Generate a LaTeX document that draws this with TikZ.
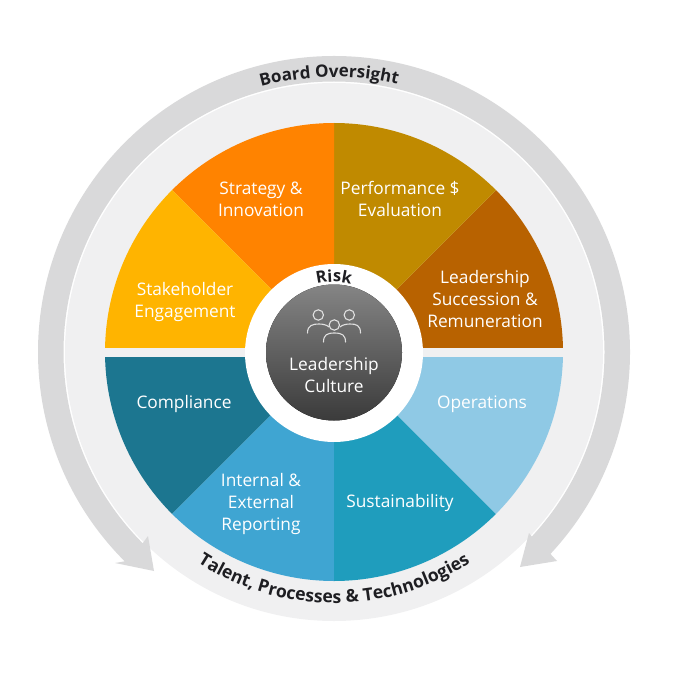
\documentclass[tikz,border=0pt]{standalone}
\usepackage{fontspec}
\setmainfont{Open Sans}
\usetikzlibrary{decorations.text}
\definecolor{diskgray}{HTML}{F0F0F1}
\definecolor{arrowgray}{HTML}{D9D9DA}
\definecolor{capdark}{HTML}{1E1E22}
\definecolor{cStake}{HTML}{FFB400}
\definecolor{cStrat}{HTML}{FF8300}
\definecolor{cPerf}{HTML}{C08A00}
\definecolor{cLead}{HTML}{B86200}
\definecolor{cOper}{HTML}{8FC9E5}
\definecolor{cSust}{HTML}{1F9DBD}
\definecolor{cRepo}{HTML}{3FA5D2}
\definecolor{cComp}{HTML}{1C7690}
\tikzset{
  x=1pt,y=1pt,
  wedgefill/.style={fill=#1,draw=none},
  seclabel/.style={text=white,align=center,font=\fontsize{17.3}{22}\selectfont,inner sep=0pt},
  iconline/.style={draw=white!88!black,line width=1.1pt,line cap=round},
}
\newcommand{\sector}[3]{\fill[wedgefill=#3] (334,-352) -- ([shift={(334,-352)}]#1:229) arc[start angle=#1,end angle=#2,radius=229] -- cycle;}
\begin{document}
\begin{tikzpicture}
\useasboundingbox (0,0) rectangle (686,-692);
\coordinate (C) at (334,-352);
% light disk
\fill[diskgray] (C) circle[radius=269];
% white rim
\draw[white,line width=1pt] ([shift={(C)}]-41:270) arc[start angle=-41,end angle=223,radius=270];
% board oversight double arrow
\fill[arrowgray]
  ([shift={(C)}]-43:296) arc[start angle=-43,end angle=225,radius=296]
  -- (115,-563) -- (154,-571) -- (148,-536)
  -- ([shift={(C)}]225:270.5) arc[start angle=225,end angle=-43,radius=270.5]
  -- (529,-533) -- (520,-567) -- (557,-561) -- cycle;
% sectors
\sector{0}{45}{cLead}
\sector{45}{90}{cPerf}
\sector{90}{135}{cStrat}
\sector{135}{180}{cStake}
\sector{180}{225}{cComp}
\sector{225}{270}{cRepo}
\sector{270}{315}{cSust}
\sector{315}{360}{cOper}
\fill[diskgray] (104,-348) rectangle (564,-357);
% hub
\fill[white] (334,-353) circle[radius=89];
\fill[top color=black!48,bottom color=black!77] (334,-352.5) circle[radius=68];
% icon
\draw[iconline] (318.3,-315) circle[radius=5.2];
\draw[iconline] (349.3,-315) circle[radius=5.2];
\draw[iconline] (334.3,-325) circle[radius=5.2];
\draw[iconline] (307.5,-333) .. controls (307.5,-325) and (313,-324) .. (319,-324) .. controls (323,-324) and (327,-325) .. (329,-327);
\draw[iconline] (340,-327) .. controls (342,-325) and (346,-324) .. (350,-324) .. controls (356,-324) and (360.5,-325) .. (360.5,-333);
\draw[iconline] (323.5,-342) .. controls (323.5,-335) and (327,-333) .. (334.3,-333) .. controls (342,-333) and (345.5,-335) .. (345.5,-342);
% labels
\node[seclabel] (strategy) at (261,-199) {Strategy \&\\Innovation};
\node[seclabel] (performance) at (400,-199) {Performance \$\\Evaluation};
\node[seclabel] (succession) at (485,-299.5) {Leadership\\Succession \&\\Remuneration};
\node[seclabel] (stakeholder) at (185,-302.5) {Stakeholder\\Engagement};
\node[seclabel] (compliance) at (184,-404.5) {Compliance};
\node[seclabel] (operations) at (482,-404.5) {Operations};
\node[seclabel] (sustainability) at (400,-503.5) {Sustainability};
\node[seclabel] (reporting) at (261,-504) {Internal \&\\External\\Reporting};
\node[seclabel] (culture) at (334,-375.5) {Leadership\\Culture};
% curved captions
\path[decorate,decoration={text along path,text align=center,
  text={|\fontsize{17}{18}\selectfont\bfseries\color{capdark}|Board Oversight}}]
  ([shift={(C)}]116:275) arc[start angle=116,end angle=66,radius=275];
\path[decorate,decoration={text along path,text align=center,
  text={|\fontsize{17.6}{18}\selectfont\bfseries\color{capdark}|Talent, Processes {\&} Technologies}}]
  ([shift={(C)}]230:251) arc[start angle=230,end angle=310,radius=251];
\path[decorate,decoration={text along path,text align=center,
  text={|\fontsize{16.5}{18}\selectfont\bfseries\color{capdark}|Risk}}]
  ([shift={(C)}]125:70) arc[start angle=125,end angle=55,radius=70];
\end{tikzpicture}
\end{document}
